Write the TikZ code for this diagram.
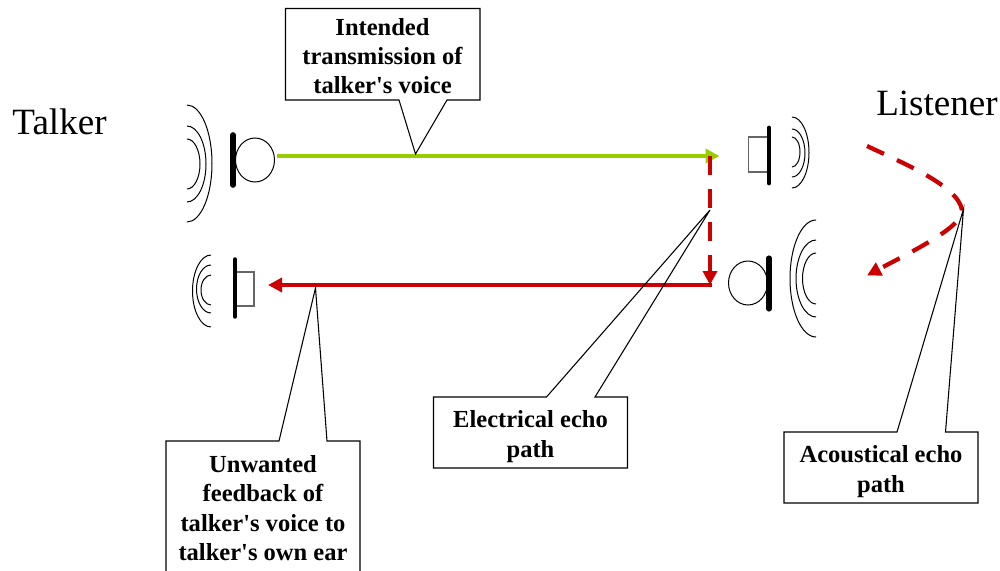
\documentclass[tikz,border=0pt]{standalone}
\usepackage{fontspec}
\setmainfont{Liberation Serif}
\usetikzlibrary{arrows.meta}
\definecolor{voicegreen}{HTML}{99CC00}
\definecolor{echored}{HTML}{CC0000}
\tikzset{
  callout/.style={draw=black,line width=0.8pt,line join=miter},
  calltext/.style={align=center,inner sep=0pt,font=\fontsize{18.4}{22}\selectfont\bfseries},
  bigtext/.style={inner sep=0pt,font=\fontsize{27.8}{33}\selectfont},
  wave/.style={draw=black,line width=0.75pt},
  mouth/.style={draw=black,line width=0.75pt},
  cone/.style={draw=black!60,line width=0.9pt},
  bar/.style={draw=black,line cap=round},
  voicearrow/.style={draw=voicegreen,line width=3.4pt,-{Triangle[length=10.5pt,width=10.5pt]}},
  echoarrow/.style={draw=echored,line width=3.2pt,-{Triangle[length=10.5pt,width=10.5pt]}},
  echodash/.style={echoarrow,dash pattern=on 14pt off 10.8pt}
}
\begin{document}
\begin{tikzpicture}[x=0.75pt,y=0.75pt,yscale=-1,xscale=1]
\useasboundingbox (0,0) rectangle (1000,571);

%Talker, mouth
\draw [mouth] (255,160) ellipse [x radius=19.5,y radius=22];
\draw [bar,line width=4.2pt] (233,135) -- (233,185);
\draw [wave] (187,105) arc [start angle=-90,end angle=90,x radius=25,y radius=58.5];
\draw [wave] (187,126) arc [start angle=-90,end angle=90,x radius=19,y radius=38];
\draw [wave] (187,139) arc [start angle=-90,end angle=90,x radius=13,y radius=25];

%Talker, ear
\draw [cone] (236,272) rectangle (254,306);
\draw [bar,line width=2.6pt] (235,259) -- (235,317);
\draw [wave] (211,255) arc [start angle=-90,end angle=-270,x radius=18.5,y radius=36];
\draw [wave] (211,265) arc [start angle=-90,end angle=-270,x radius=14.5,y radius=24];
\draw [wave] (211,275) arc [start angle=-90,end angle=-270,x radius=10,y radius=15];

%Listener, ear
\draw [cone] (768,137) rectangle (748.5,172);
\draw [bar,line width=3.6pt] (769,128) -- (769,183);
\draw [wave] (792,117) arc [start angle=-90,end angle=90,x radius=17,y radius=35.5];
\draw [wave] (792,129) arc [start angle=-90,end angle=90,x radius=13,y radius=24];
\draw [wave] (792,137) arc [start angle=-90,end angle=90,x radius=8,y radius=15];

%Listener, mouth
\draw [mouth] (748,283) ellipse [x radius=19.5,y radius=22];
\draw [bar,line width=3.8pt] (769,258) -- (769,309);
\draw [wave] (816,220) arc [start angle=-90,end angle=-270,x radius=26,y radius=58.5];
\draw [wave] (816,240) arc [start angle=-90,end angle=-270,x radius=20,y radius=38.5];
\draw [wave] (816,253) arc [start angle=-90,end angle=-270,x radius=13.5,y radius=25.5];

%Path ends
\coordinate (talkout) at (277,156);
\coordinate (listenin) at (719.5,156);
\coordinate (elecstart) at (710,156);
\coordinate (elecend) at (710,285);
\coordinate (listenout) at (711.5,285);
\coordinate (talkin) at (268,285);
\coordinate (acoustart) at (867,146);
\coordinate (acouturn) at (962,210);
\coordinate (acouend) at (867,275.5);

%Arrows
\draw [voicearrow] (talkout) -- (listenin);
\draw [echoarrow] (listenout) -- (talkin);
\draw [echodash] (elecstart) -- (elecend);
\draw [echodash] (acoustart) .. controls (905,164) and (958,186) .. (acouturn) .. controls (964,226) and (915,250) .. (acouend);

%Callouts
\draw [callout] (399,100) -- (285.5,100) -- (285.5,8.5) -- (480,8.5) -- (480,100) -- (447,100) -- (415.5,154) -- cycle;
\draw [callout] (546.5,397) -- (433.5,397) -- (433.5,468) -- (627.5,468) -- (627.5,397) -- (595,397) -- (710,210) -- cycle;
\draw [callout] (897,432) -- (784,432) -- (784,503) -- (978,503) -- (978,432) -- (945.5,432) -- (963.5,209) -- cycle;
\draw [callout] (166,572) -- (166,441) -- (279,441) -- (315.5,288) -- (327,441) -- (360,441) -- (360,572);

% Text Node
\draw (59.5,122) node (talker) [bigtext] {Talker};
% Text Node
\draw (937,103) node (listener) [bigtext] {Listener};
% Text Node
\draw (382.5,56) node (intended) [calltext] {Intended\\transmission of\\talker\textquotesingle s voice};
% Text Node
\draw (530.5,436.5) node (electrical) [calltext] {Electrical echo\\path};
% Text Node
\draw (881,471.5) node (acoustical) [calltext] {Acoustical echo\\path};
% Text Node
\draw (263,508) node (unwanted) [calltext] {Unwanted\\feedback of\\talker\textquotesingle s voice to\\talker\textquotesingle s own ear};

\end{tikzpicture}
\end{document}
